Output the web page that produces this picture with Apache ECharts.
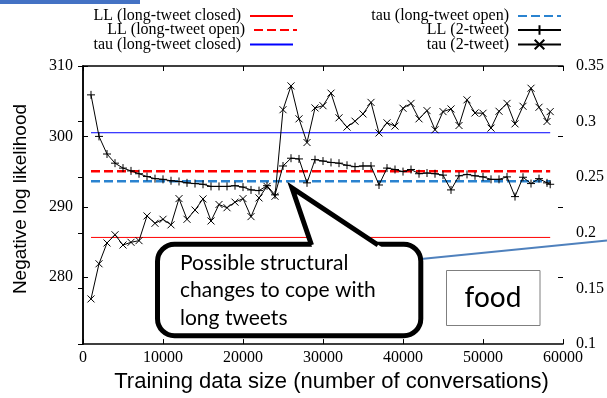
<!DOCTYPE html>
<html>
<head>
<meta charset="utf-8">
<script src="https://cdn.jsdelivr.net/npm/echarts@6/dist/echarts.min.js"></script>
<style>
html,body{margin:0;padding:0;background:#fff;}
#chart{width:607px;height:398px;}
</style>
</head>
<body>
<div id="chart"></div>
<script>
// ---- data ----
var trainingSizes = [1000,2000,3000,4000,5000,6000,7000,8000,9000,10000,
  11000,12000,13000,14000,15000,16000,17000,18000,19000,20000,
  21000,22000,23000,24000,25000,26000,27000,28000,29000,30000,
  31000,32000,33000,34000,35000,36000,37000,38000,39000,40000,
  41000,42000,43000,44000,45000,46000,47000,48000,49000,50000,
  51000,52000,53000,54000,55000,56000,57000,58000,58400];
var ll2tweet = [305.9,300.0,297.5,296.2,295.5,295.1,294.7,294.3,294.0,293.9,
  293.7,293.6,293.4,293.3,293.2,292.9,292.9,292.9,293.0,292.8,
  292.4,292.3,293.0,291.7,295.8,296.9,296.8,293.4,296.7,296.5,
  296.3,296.2,295.9,295.7,295.8,295.8,293.1,295.5,295.3,295.0,
  295.3,294.7,294.8,294.7,294.5,292.4,294.4,294.6,294.4,294.25,
  293.9,293.9,294.25,291.45,294.2,293.3,294.0,293.4,293.2];
var tau2tweet = [0.1406,0.1722,0.1909,0.1983,0.1891,0.1915,0.1930,0.2152,0.2086,0.2122,
  0.2072,0.2308,0.2122,0.2205,0.2305,0.2107,0.2255,0.2226,0.2276,0.2308,
  0.2146,0.2314,0.2418,0.2329,0.3107,0.3321,0.3025,0.2812,0.3123,0.3143,
  0.3256,0.3034,0.2951,0.3004,0.3069,0.3173,0.2898,0.2989,0.2960,0.3120,
  0.3164,0.3025,0.3099,0.2927,0.3090,0.3114,0.2965,0.3196,0.3078,0.3075,
  0.2942,0.3093,0.3164,0.2980,0.3138,0.3300,0.3129,0.3001,0.3090];
var llLongClosed = 285.65;
var llLongOpen = 295.05;
var tauLongClosed = 0.290;
var tauLongOpen = 0.2463;
var lineRange = [1000, 58400];
var seriesNames = ['LL (long-tweet closed)','LL (long-tweet open)','tau (long-tweet closed)',
                   'tau (long-tweet open)','LL (2-tweet)','tau (2-tweet)'];
var xTicks = [0,10000,20000,30000,40000,50000,60000];
var leftTicks = [280,290,300,310];
var rightTicks = [0.1,0.15,0.2,0.25,0.3,0.35];

function pairs(xs, ys){ return xs.map(function(x,i){ return [x, ys[i]]; }); }
function flat(v){ return [[lineRange[0], v],[lineRange[1], v]]; }

var serif = 'Liberation Serif';
var plusPath = 'path://M0,5L10,5M5,0L5,10';
var crossPath = 'path://M0,0L10,10M10,0L0,10';

var chart = echarts.init(document.getElementById('chart'));

function legendItem(name, right, top, noMarker){
  var l = {
    data:[name], orient:'horizontal', align:'right', right:right, top:top,
    padding:0, itemWidth:43, itemHeight:12, selectedMode:false,
    textStyle:{fontFamily:serif, fontSize:16, color:'#000', lineHeight:16, padding:[0,4,0,0]}
  };
  if (noMarker) { l.itemStyle = {opacity:0}; }
  return l;
}

var option = {
  animation:false,
  backgroundColor:'#fff',
  legend:[
    legendItem(seriesNames[0], 313, 8, true),
    legendItem(seriesNames[1], 309, 22, true),
    legendItem(seriesNames[2], 313, 36.5, true),
    legendItem(seriesNames[3], 45, 8, true),
    legendItem(seriesNames[4], 45, 22, false),
    legendItem(seriesNames[5], 45, 36.5, false)
  ],
  grid:{left:83, right:41, top:66, bottom:50},
  xAxis:[{
    type:'value', min:0, max:60000, interval:10000, position:'bottom',
    name:'Training data size (number of conversations)', nameLocation:'middle', nameGap:25,
    nameTextStyle:{fontFamily:'Liberation Sans', fontSize:22, color:'#000', padding:[0,0,0,17]},
    axisLine:{show:true, lineStyle:{color:'#000', width:1.5}},
    axisTick:{show:true, inside:true, length:5, lineStyle:{color:'#000'}},
    axisLabel:{fontFamily:serif, fontSize:16, color:'#000', margin:6, formatter:function(v){return String(v);}},
    splitLine:{show:false}
  },{
    type:'value', min:0, max:60000, interval:10000, position:'top',
    axisLine:{show:true, lineStyle:{color:'#000', width:1.5}},
    axisTick:{show:true, inside:true, length:5, lineStyle:{color:'#000'}},
    axisLabel:{show:false}, splitLine:{show:false}
  }],
  yAxis:[{
    type:'value', min:270.5, max:310, position:'left',
    name:'Negative log likelihood', nameLocation:'middle', nameGap:53,
    nameTextStyle:{fontFamily:'Liberation Sans', fontSize:19, color:'#000', padding:[0,0,0,12]},
    axisLine:{show:true, lineStyle:{color:'#000', width:1.5}},
    axisTick:{show:true, inside:true, length:5, customValues:leftTicks, lineStyle:{color:'#000'}},
    axisLabel:{fontFamily:serif, fontSize:16, color:'#000', margin:10, customValues:leftTicks},
    splitLine:{show:false}
  },{
    type:'value', min:0.1, max:0.35, interval:0.05, position:'right',
    axisLine:{show:true, lineStyle:{color:'#000', width:1.5}},
    axisTick:{show:true, inside:true, length:5, lineStyle:{color:'#000'}},
    axisLabel:{fontFamily:serif, fontSize:16, color:'#000', margin:13},
    splitLine:{show:false}
  },{
    type:'value', min:270.5, max:310, position:'right',
    axisLine:{show:false},
    axisTick:{show:true, inside:true, length:5, customValues:leftTicks, lineStyle:{color:'#000'}},
    axisLabel:{show:false}, splitLine:{show:false}
  }],
  series:[
    {name:seriesNames[0], type:'line', yAxisIndex:0, data:flat(llLongClosed), symbol:'none',
     lineStyle:{color:'#ff0000', width:1}, itemStyle:{color:'#ff0000'}, z:2},
    {name:seriesNames[1], type:'line', yAxisIndex:0, data:flat(llLongOpen), symbol:'none',
     lineStyle:{color:'#ff0000', width:2.5, type:[9,4]}, itemStyle:{color:'#ff0000'}, z:3},
    {name:seriesNames[2], type:'line', yAxisIndex:1, data:flat(tauLongClosed), symbol:'none',
     lineStyle:{color:'#0000ff', width:1}, itemStyle:{color:'#0000ff'}, z:2},
    {name:seriesNames[3], type:'line', yAxisIndex:1, data:flat(tauLongOpen), symbol:'none',
     lineStyle:{color:'#2a83d0', width:2.5, type:[9,4]}, itemStyle:{color:'#2a83d0'}, z:3},
    {name:seriesNames[4], type:'line', yAxisIndex:0, data:pairs(trainingSizes, ll2tweet),
     symbol:plusPath, symbolSize:8, showAllSymbol:true,
     lineStyle:{color:'#000', width:1}, itemStyle:{color:'#000', borderColor:'#000', borderWidth:1}, z:4},
    {name:seriesNames[5], type:'line', yAxisIndex:1, data:pairs(trainingSizes, tau2tweet),
     symbol:crossPath, symbolSize:7, showAllSymbol:true,
     lineStyle:{color:'#000', width:1}, itemStyle:{color:'#000', borderColor:'#000', borderWidth:1}, z:4}
  ],
  graphic:{elements:[
    {type:'rect', z:100, shape:{x:0, y:0, width:140, height:4}, style:{fill:'#4472c4'}},
    {type:'line', z:100, shape:{x1:421, y1:259, x2:607, y2:240.5}, style:{stroke:'#4f81bd', lineWidth:2}},
    {type:'rect', z:101, shape:{x:157.5, y:244.2, width:263.3, height:91.6, r:17},
     style:{fill:'#fff', stroke:'#000', lineWidth:5}},
    {type:'polygon', z:102, shape:{points:[[292,188],[312.6,248.5],[383.8,248.5]]},
     style:{fill:'#fff', stroke:null}},
    {type:'polyline', z:103, shape:{points:[[311.5,245],[292,188],[378,245]]},
     style:{stroke:'#000', lineWidth:5, fill:null, lineJoin:'miter', miterLimit:20}},
    {type:'text', z:104, x:180, y:249, style:{text:'Possible structural\nchanges to cope with\nlong tweets',
     font:'21px Lato', fill:'#000', lineHeight:27.5}},
    {type:'rect', z:100, shape:{x:446.5, y:270.5, width:93.5, height:55}, style:{fill:'#fff', stroke:'#7f7f7f', lineWidth:1}},
    {type:'text', z:101, x:493, y:298, style:{text:'food', font:'28px Lato', fill:'#000', align:'center', verticalAlign:'middle'}}
  ]}
};
chart.setOption(option);
</script>
</body>
</html>
